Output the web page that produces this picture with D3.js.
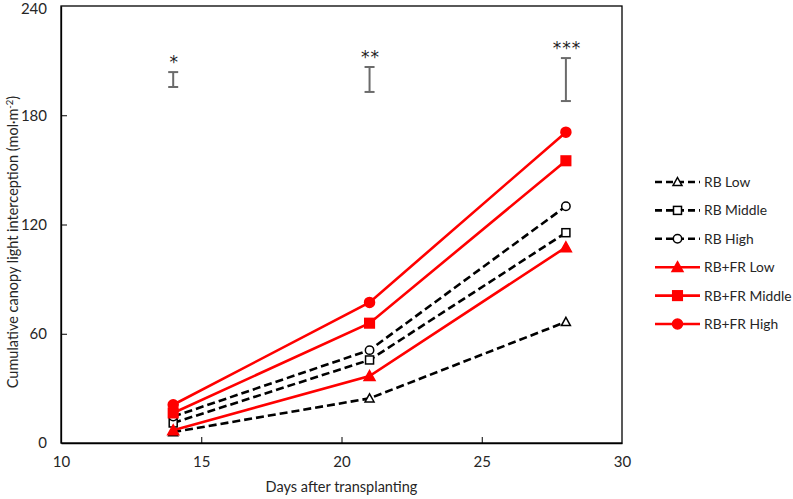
<!DOCTYPE html>
<html><head><meta charset="utf-8">
<script src="https://cdn.jsdelivr.net/npm/d3@7"></script>
<style>html,body{margin:0;padding:0;background:#fff;}svg{display:block;font-family:Lato,"Open Sans",sans-serif;}</style>
</head><body>
<svg id="c" width="793" height="499"></svg>
<script>
const days = [14, 21, 28];
const seriesNames = ["RB Low", "RB Middle", "RB High", "RB+FR Low", "RB+FR Middle", "RB+FR High"];
const rbLow = [6, 24.5, 66.5];
const rbMiddle = [11, 45.6, 115.5];
const rbHigh = [14.5, 51, 130];
const rbfrLow = [7, 36.8, 107.5];
const rbfrMiddle = [16.5, 65.8, 155];
const rbfrHigh = [21, 77.2, 170.7];
const errLow = [195.5, 192.8, 187.8];
const errHigh = [203.7, 206.5, 211.4];
const sigLabels = ["*", "**", "***"];
const xTicks = [10, 15, 20, 25, 30];
const yTicks = [0, 60, 120, 180, 240];

const series = [
  {name: seriesNames[0], values: rbLow, kind: "tri", red: false},
  {name: seriesNames[1], values: rbMiddle, kind: "sq", red: false},
  {name: seriesNames[2], values: rbHigh, kind: "circ", red: false},
  {name: seriesNames[3], values: rbfrLow, kind: "tri", red: true},
  {name: seriesNames[4], values: rbfrMiddle, kind: "sq", red: true},
  {name: seriesNames[5], values: rbfrHigh, kind: "circ", red: true}
];

const svg = d3.select("#c");
const L = 61, R = 622, T = 6, B = 443;
const x = d3.scaleLinear().domain([10, 30]).range([L, R]);
const y = d3.scaleLinear().domain([0, 240]).range([B, T]);

// frame
svg.append("rect").attr("x", L).attr("y", T).attr("width", R - L).attr("height", B - T)
  .attr("fill", "none").attr("stroke", "#000").attr("stroke-width", 1.3);

// axes with inward ticks
const xAxis = svg.append("g").attr("transform", `translate(0,${B})`)
  .call(d3.axisBottom(x).tickValues(xTicks).tickSizeInner(-6).tickSizeOuter(0).tickPadding(13));
const yAxis = svg.append("g").attr("transform", `translate(${L},0)`)
  .call(d3.axisLeft(y).tickValues(yTicks).tickSizeInner(-6).tickSizeOuter(0).tickPadding(14));
[xAxis, yAxis].forEach(a => {
  a.select(".domain").attr("stroke", "#000").attr("stroke-width", 1.3);
  a.selectAll(".tick line").attr("stroke", "#000").attr("stroke-width", 1);
  a.selectAll(".tick text").attr("font-size", 15).attr("fill", "#262626").attr("font-family", "Lato, 'Open Sans', sans-serif");
});
yAxis.selectAll(".tick").filter(d => d === 0 || d === 240).select("line").remove();
yAxis.selectAll(".tick").filter(d => d === 240).select("text").attr("dy", "0.5em");
xAxis.selectAll(".tick").filter(d => d === 10 || d === 30).select("line").remove();

// axis titles
svg.append("text").attr("x", (L + R) / 2).attr("y", 492).attr("text-anchor", "middle")
  .attr("font-size", 14.5).attr("fill", "#262626").text("Days after transplanting");
const yt = svg.append("text").attr("transform", `translate(18,${242}) rotate(-90)`)
  .attr("text-anchor", "middle").attr("font-size", 14.5).attr("fill", "#262626");
yt.append("tspan").text("Cumulative canopy light interception (mol·m");
yt.append("tspan").attr("dy", -5).attr("font-size", 9.5).text("-2");
yt.append("tspan").attr("dy", 5).text(")");

// error bars
const eb = svg.append("g").attr("stroke", "#6b6b6b").attr("stroke-width", 2);
days.forEach((d, i) => {
  eb.append("line").attr("x1", x(d)).attr("x2", x(d)).attr("y1", y(errLow[i])).attr("y2", y(errHigh[i]));
  [errLow[i], errHigh[i]].forEach(v => eb.append("line").attr("x1", x(d) - 5).attr("x2", x(d) + 5).attr("y1", y(v)).attr("y2", y(v)));
  svg.append("text").attr("x", x(d) + 1).attr("y", y(errHigh[i]) - 4).attr("text-anchor", "middle")
    .attr("font-family", "'DejaVu Sans', sans-serif")
    .attr("font-size", 17).attr("fill", "#222").attr("letter-spacing", 1).text(sigLabels[i]);
});

function marker(g, kind, red, cx, cy) {
  const fill = red ? "#ff0000" : "#fff";
  const stroke = red ? "#ff0000" : "#000";
  if (kind === "tri") {
    const s = red ? 5.5 : 4.5;
    g.append("path").attr("d", `M${cx},${cy - s}L${cx + s},${cy + s * 0.8}L${cx - s},${cy + s * 0.8}Z`)
      .attr("fill", fill).attr("stroke", stroke).attr("stroke-width", 1.5);
  } else if (kind === "sq") {
    const s = red ? 4.8 : 4;
    g.append("rect").attr("x", cx - s).attr("y", cy - s).attr("width", 2 * s).attr("height", 2 * s)
      .attr("fill", fill).attr("stroke", stroke).attr("stroke-width", 1.5);
  } else {
    g.append("circle").attr("cx", cx).attr("cy", cy).attr("r", red ? 5 : 4.2)
      .attr("fill", fill).attr("stroke", stroke).attr("stroke-width", 1.5);
  }
}

const line = d3.line().x((v, i) => x(days[i])).y(v => y(v));
series.forEach(s => {
  const g = svg.append("g");
  g.append("path").datum(s.values).attr("d", line).attr("fill", "none")
    .attr("stroke", s.red ? "#ff0000" : "#000").attr("stroke-width", 2.6)
    .attr("stroke-dasharray", s.red ? null : "8,4");
  s.values.forEach((v, i) => marker(g, s.kind, s.red, x(days[i]), y(v)));
});

// legend
const lg = svg.append("g");
series.forEach((s, i) => {
  const ly = 182 + i * 28.4;
  lg.append("line").attr("x1", 655).attr("x2", 700).attr("y1", ly).attr("y2", ly)
    .attr("stroke", s.red ? "#ff0000" : "#000").attr("stroke-width", 2.6)
    .attr("stroke-dasharray", s.red ? null : "7,4");
  marker(lg, s.kind, s.red, 677.5, ly);
  lg.append("text").attr("x", 704).attr("y", ly + 5).attr("font-size", 13.8).attr("fill", "#262626").text(s.name);
});
</script>
</body></html>
